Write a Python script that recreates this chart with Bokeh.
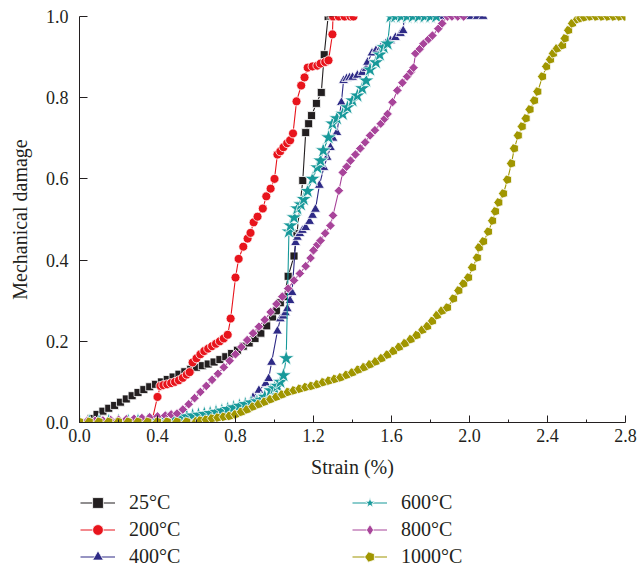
import numpy as np
from bokeh.plotting import figure
from bokeh.layouts import column
from bokeh.models import ColumnDataSource, Legend, LegendItem, FixedTicker
from bokeh.embed import file_html
from bokeh.resources import INLINE

# ---------------- data (strain %, mechanical damage) ----------------
labels = ["25°C", "200°C", "400°C", "600°C", "800°C", "1000°C"]
colors = ["#231f20", "#e8141c", "#2e2a86", "#17999a", "#a8449a", "#a09600"]

pts_25 = [(0.06, 0.01), (0.09, 0.02), (0.12, 0.028), (0.15, 0.035), (0.18, 0.042), (0.21, 0.05),
          (0.24, 0.058), (0.27, 0.066), (0.30, 0.074), (0.33, 0.081), (0.36, 0.088), (0.39, 0.094),
          (0.42, 0.10), (0.45, 0.106), (0.48, 0.112), (0.51, 0.119), (0.54, 0.125), (0.57, 0.131),
          (0.60, 0.136), (0.63, 0.140), (0.66, 0.144), (0.69, 0.149), (0.72, 0.155), (0.75, 0.162),
          (0.78, 0.17), (0.81, 0.178), (0.84, 0.188), (0.87, 0.196), (0.90, 0.207), (0.93, 0.22),
          (0.96, 0.238), (0.99, 0.26), (1.01, 0.275), (1.03, 0.295), (1.05, 0.31), (1.07, 0.36),
          (1.10, 0.41), (1.115, 0.465), (1.145, 0.596), (1.16, 0.714), (1.175, 0.736), (1.19, 0.756),
          (1.215, 0.786), (1.24, 0.813), (1.255, 0.906), (1.275, 1.0), (1.29, 1.0), (1.30, 1.0)]

pts_200 = [(0.37, 0.0), (0.40, 0.063), (0.415, 0.09), (0.43, 0.092), (0.45, 0.094), (0.47, 0.097),
           (0.49, 0.10), (0.51, 0.104), (0.53, 0.11), (0.55, 0.118), (0.565, 0.124), (0.58, 0.148),
           (0.60, 0.158), (0.62, 0.168), (0.64, 0.176), (0.66, 0.182), (0.68, 0.188), (0.70, 0.194),
           (0.72, 0.20), (0.74, 0.207), (0.76, 0.216), (0.775, 0.256), (0.80, 0.357), (0.816, 0.403),
           (0.84, 0.433), (0.862, 0.453), (0.877, 0.467), (0.893, 0.493), (0.913, 0.507), (0.94, 0.527),
           (0.958, 0.557), (0.98, 0.576), (1.0, 0.60), (1.015, 0.66), (1.03, 0.668), (1.046, 0.678),
           (1.065, 0.688), (1.08, 0.695), (1.095, 0.712), (1.113, 0.791), (1.137, 0.83), (1.154, 0.85),
           (1.17, 0.874), (1.195, 0.877), (1.22, 0.879), (1.236, 0.884), (1.26, 0.888), (1.277, 0.892),
           (1.297, 0.956), (1.30, 1.0), (1.33, 1.0), (1.36, 1.0), (1.39, 1.0), (1.405, 1.0)]

pts_400 = [(0.0, 0.002), (0.04, 0.002), (0.08, 0.002), (0.12, 0.002), (0.16, 0.003), (0.20, 0.003),
           (0.24, 0.003), (0.28, 0.003), (0.32, 0.004), (0.36, 0.004), (0.40, 0.004), (0.44, 0.005),
           (0.48, 0.006), (0.52, 0.008), (0.56, 0.01), (0.60, 0.012), (0.64, 0.014), (0.68, 0.016),
           (0.72, 0.018), (0.76, 0.021), (0.79, 0.024), (0.82, 0.028), (0.85, 0.035), (0.87, 0.045),
           (0.89, 0.062), (0.92, 0.079), (0.955, 0.096), (0.97, 0.108), (0.985, 0.148), (1.015, 0.225),
           (1.03, 0.255), (1.045, 0.262), (1.056, 0.27), (1.066, 0.28), (1.08, 0.30), (1.09, 0.32),
           (1.108, 0.443), (1.117, 0.456), (1.13, 0.465), (1.143, 0.473), (1.16, 0.48), (1.18, 0.495),
           (1.195, 0.51), (1.21, 0.525), (1.23, 0.584), (1.253, 0.628), (1.27, 0.653), (1.287, 0.677),
           (1.30, 0.70), (1.32, 0.714), (1.343, 0.788), (1.354, 0.842), (1.37, 0.847), (1.385, 0.849),
           (1.40, 0.85), (1.425, 0.855), (1.45, 0.862), (1.47, 0.872), (1.477, 0.887), (1.50, 0.91),
           (1.52, 0.916), (1.545, 0.923), (1.57, 0.933), (1.595, 0.94), (1.62, 0.948), (1.646, 0.958),
           (1.66, 0.965), (1.665, 1.0), (1.70, 1.0), (1.75, 1.0), (1.80, 1.0), (1.85, 1.0), (1.90, 1.0),
           (1.95, 1.0), (2.0, 1.0), (2.04, 1.0), (2.07, 1.0)]

pts_600 = [(0.0, 0.002), (0.05, 0.002), (0.10, 0.002), (0.15, 0.003), (0.20, 0.003), (0.25, 0.003),
           (0.30, 0.004), (0.35, 0.004), (0.40, 0.005), (0.45, 0.007), (0.49, 0.009), (0.52, 0.012),
           (0.55, 0.015), (0.58, 0.017), (0.61, 0.019), (0.64, 0.021), (0.67, 0.023), (0.70, 0.026),
           (0.73, 0.029), (0.76, 0.033), (0.79, 0.037), (0.82, 0.041), (0.85, 0.045), (0.88, 0.049),
           (0.91, 0.052), (0.93, 0.056), (0.95, 0.063), (0.98, 0.079), (1.0, 0.084), (1.015, 0.09),
           (1.03, 0.10), (1.046, 0.116), (1.06, 0.158), (1.074, 0.47), (1.082, 0.485), (1.10, 0.505),
           (1.117, 0.527), (1.135, 0.537), (1.15, 0.55), (1.17, 0.57), (1.195, 0.60), (1.22, 0.628),
           (1.236, 0.645), (1.25, 0.67), (1.277, 0.702), (1.297, 0.736), (1.32, 0.749), (1.35, 0.76),
           (1.374, 0.776), (1.40, 0.793), (1.425, 0.805), (1.45, 0.823), (1.47, 0.842), (1.49, 0.869),
           (1.52, 0.887), (1.54, 0.906), (1.56, 0.924), (1.58, 0.933), (1.595, 1.0), (1.62, 1.0),
           (1.65, 1.0), (1.68, 1.0), (1.71, 1.0), (1.74, 1.0), (1.77, 1.0), (1.80, 1.0), (1.83, 1.0)]

pts_800 = [(0.0, 0.003), (0.04, 0.004), (0.08, 0.004), (0.12, 0.005), (0.16, 0.006), (0.20, 0.007),
           (0.24, 0.008), (0.28, 0.009), (0.32, 0.011), (0.36, 0.013), (0.40, 0.015), (0.44, 0.017),
           (0.47, 0.02), (0.50, 0.022), (0.53, 0.032), (0.56, 0.045), (0.59, 0.06), (0.62, 0.075),
           (0.65, 0.09), (0.68, 0.105), (0.71, 0.12), (0.74, 0.136), (0.77, 0.152), (0.80, 0.168),
           (0.83, 0.186), (0.86, 0.203), (0.89, 0.22), (0.92, 0.236), (0.95, 0.253), (0.98, 0.272),
           (1.01, 0.292), (1.04, 0.31), (1.07, 0.33), (1.10, 0.35), (1.13, 0.367), (1.16, 0.385),
           (1.185, 0.405), (1.20, 0.424), (1.22, 0.438), (1.236, 0.448), (1.26, 0.466), (1.287, 0.485),
           (1.30, 0.51), (1.33, 0.571), (1.35, 0.616), (1.37, 0.63), (1.39, 0.645), (1.415, 0.66),
           (1.44, 0.675), (1.465, 0.69), (1.49, 0.707), (1.515, 0.72), (1.545, 0.736), (1.565, 0.748),
           (1.58, 0.76), (1.605, 0.789), (1.63, 0.818), (1.656, 0.837), (1.68, 0.852), (1.70, 0.864),
           (1.713, 0.874), (1.723, 0.909), (1.745, 0.92), (1.764, 0.933), (1.79, 0.944), (1.81, 0.953),
           (1.84, 0.97), (1.86, 0.983), (1.887, 1.0), (1.91, 1.0), (1.94, 1.0), (1.97, 1.0)]

pts_1000 = [(0.0, 0.002), (0.05, 0.002), (0.10, 0.002), (0.15, 0.002), (0.20, 0.002), (0.25, 0.002),
            (0.30, 0.002), (0.35, 0.002), (0.40, 0.002), (0.45, 0.002), (0.50, 0.002), (0.55, 0.002),
            (0.60, 0.003), (0.62, 0.005), (0.65, 0.007), (0.68, 0.01), (0.71, 0.012), (0.74, 0.014),
            (0.77, 0.016), (0.80, 0.02), (0.83, 0.026), (0.86, 0.032), (0.89, 0.039), (0.92, 0.045),
            (0.95, 0.051), (0.98, 0.057), (1.01, 0.063), (1.04, 0.069), (1.07, 0.075), (1.10, 0.079),
            (1.13, 0.083), (1.16, 0.087), (1.19, 0.09), (1.22, 0.094), (1.25, 0.099), (1.28, 0.103),
            (1.31, 0.107), (1.34, 0.111), (1.37, 0.117), (1.40, 0.123), (1.43, 0.13), (1.46, 0.136),
            (1.49, 0.143), (1.52, 0.15), (1.55, 0.158), (1.58, 0.167), (1.61, 0.176), (1.64, 0.186),
            (1.67, 0.195), (1.70, 0.205), (1.73, 0.215), (1.76, 0.228), (1.785, 0.237), (1.81, 0.25),
            (1.835, 0.264), (1.86, 0.275), (1.887, 0.283), (1.918, 0.305), (1.945, 0.325), (1.97, 0.342),
            (1.995, 0.357), (2.015, 0.382), (2.04, 0.406), (2.05, 0.431), (2.072, 0.446), (2.097, 0.47),
            (2.118, 0.497), (2.133, 0.52), (2.15, 0.542), (2.174, 0.564), (2.195, 0.598), (2.215, 0.638),
            (2.23, 0.675), (2.25, 0.707), (2.27, 0.729), (2.29, 0.749), (2.31, 0.771), (2.333, 0.793),
            (2.35, 0.815), (2.374, 0.852), (2.395, 0.877), (2.415, 0.894), (2.43, 0.909), (2.45, 0.921),
            (2.477, 0.929), (2.49, 0.946), (2.508, 0.966), (2.528, 0.983), (2.554, 0.993), (2.57, 0.996),
            (2.59, 0.998), (2.62, 1.0), (2.65, 1.0), (2.68, 1.0), (2.71, 1.0), (2.74, 1.0), (2.77, 1.0),
            (2.80, 1.0)]

x_ticks = [0.0, 0.4, 0.8, 1.2, 1.6, 2.0, 2.4, 2.8]
x_minor = [0.2, 0.6, 1.0, 1.4, 1.8, 2.2, 2.6]
y_ticks = [0.0, 0.2, 0.4, 0.6, 0.8, 1.0]

series = [pts_25, pts_200, pts_400, pts_600, pts_800, pts_1000]
markers = ["square", "circle", "triangle", "star", "diamond", "pentagon"]
sizes = [8, 9, 10, 17, 9, 10]

FONT = "Liberation Serif"
TXT = "#231f20"


def add_series(fig, src, col, mk, sz, for_legend=False):
    lr = fig.line("x", "y", source=src, line_color=col, line_width=1.1)
    if mk == "pentagon":
        try:
            mr = fig.ngon(x="x", y="y", radius=sz / 2.0, radius_units="screen", n=5,
                          angle=np.pi / 2, fill_color=col, line_color="white", line_width=0.8,
                          source=src)
        except Exception:
            mr = fig.scatter("x", "y", source=src, marker="hex", size=sz, fill_color=col,
                             line_color="white", line_width=0.8)
    elif mk == "diamond":
        if for_legend:
            mr = fig.scatter("x", "y", source=src, marker="diamond", size=sz * 1.15,
                             fill_color=col, line_color="white", line_width=0.8)
        else:
            mr = fig.scatter("x", "y", source=src, marker="square", angle=np.pi / 4,
                             size=sz * 0.75, fill_color=col, line_color="white", line_width=0.8)
    else:
        mr = fig.scatter("x", "y", source=src, marker=mk, size=sz, fill_color=col,
                         line_color="white", line_width=0.8)
    return lr, mr


# ---------------- main chart ----------------
p = figure(width=639, height=484, x_range=(0, 2.8), y_range=(0, 1.0),
           output_backend="svg", toolbar_location=None,
           min_border_left=79, min_border_right=14, min_border_top=16, min_border_bottom=62)
p.outline_line_color = None
p.xgrid.grid_line_color = None
p.ygrid.grid_line_color = None
p.background_fill_color = "white"
p.border_fill_color = "white"

for ax in (p.xaxis[0], p.yaxis[0]):
    ax.axis_line_color = TXT
    ax.axis_line_width = 1
    ax.major_tick_line_color = TXT
    ax.minor_tick_line_color = TXT
    ax.major_label_text_font = FONT
    ax.major_label_text_font_size = "18px"
    ax.major_label_text_color = TXT
    ax.axis_label_text_font = FONT
    ax.axis_label_text_font_size = "20px"
    ax.axis_label_text_font_style = "normal"
    ax.axis_label_text_color = TXT

p.xaxis.ticker = FixedTicker(ticks=x_ticks, minor_ticks=x_minor)
p.xaxis.major_label_overrides = {t: f"{t:.1f}" for t in x_ticks}
p.xaxis.major_tick_in = 7
p.xaxis.major_tick_out = 0
p.xaxis.minor_tick_in = 3
p.xaxis.minor_tick_out = 0
p.xaxis.major_label_standoff = 6
p.xaxis.axis_label = "Strain (%)"
p.xaxis.axis_label_standoff = 11

p.yaxis.ticker = FixedTicker(ticks=y_ticks, minor_ticks=[])
p.yaxis.major_label_overrides = {t: f"{t:.1f}" for t in y_ticks}
p.yaxis.major_tick_in = 8
p.yaxis.major_tick_out = 0
p.yaxis.minor_tick_line_color = None
p.yaxis.major_label_standoff = 11
p.yaxis.axis_label = "Mechanical damage"
p.yaxis.axis_label_standoff = 12

for pts, col, mk, sz in zip(series, colors, markers, sizes):
    src = ColumnDataSource(dict(x=[a for a, b in pts], y=[b for a, b in pts]))
    add_series(p, src, col, mk, sz)

# ---------------- legend strip below the chart ----------------
lg = figure(width=639, height=87, x_range=(0, 1), y_range=(0, 1),
            output_backend="svg", toolbar_location=None,
            x_axis_type=None, y_axis_type=None, min_border=0)
lg.outline_line_color = None
lg.xgrid.grid_line_color = None
lg.ygrid.grid_line_color = None
lg.background_fill_color = "white"
lg.border_fill_color = "white"

items = []
for lab, col, mk, sz in zip(labels, colors, markers, sizes):
    dummy = ColumnDataSource(dict(x=[-5.0], y=[-5.0]))
    lr, mr = add_series(lg, dummy, col, mk, sz, for_legend=True)
    items.append(LegendItem(label=lab, renderers=[lr, mr]))

common = dict(margin=0, padding=0, spacing=0, glyph_width=35, glyph_height=27, label_height=27,
              label_standoff=14, label_text_font=FONT, label_text_font_size="20px",
              label_text_color=TXT, border_line_color=None, background_fill_alpha=0)
leg1 = Legend(items=items[:3], location=(1, 1), **common)
leg2 = Legend(items=items[3:], location=(273, 1), **common)
lg.add_layout(leg1, "center")
lg.add_layout(leg2, "center")

layout = column(p, lg, spacing=0)
open("out.html", "w").write(file_html(layout, INLINE))
